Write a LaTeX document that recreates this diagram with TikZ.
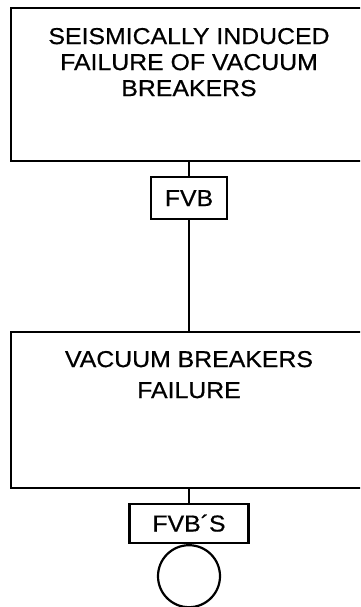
\documentclass[tikz,border=0pt]{standalone}
\usepackage{fontspec}
\setmainfont{Liberation Sans}[FakeStretch=1.08,FakeBold=0.6]
\usetikzlibrary{positioning}

\tikzset{
  bigbox/.style={draw,line width=2.4pt,minimum width=356pt,inner sep=0pt},
  tagbox/.style={draw,line width=2.2pt,minimum height=42pt,text height=16pt,text depth=0pt,inner sep=0pt,font=\fontsize{23}{26}\selectfont},
  boxtext/.style={align=center,inner sep=0pt},
  wire/.style={line width=2.2pt}
}

\begin{document}
\begin{tikzpicture}[x=1pt,y=-1pt]
  \clip (0,0) rectangle (360,607);

  \node[bigbox,minimum height=153pt] (seis) at (189,84.5) {};
  \node[boxtext,font=\fontsize{23}{26}\selectfont,below=21pt of seis.north] (seistext)
    {SEISMICALLY INDUCED\\FAILURE OF VACUUM\\BREAKERS};
  \node[tagbox,minimum width=76pt] (fvb) at (189,198) {FVB};

  \node[bigbox,minimum height=156pt] (vb) at (189,410) {};
  \node[boxtext,font=\fontsize{23}{31}\selectfont,below=20pt of vb.north] (vbtext)
    {VACUUM BREAKERS\\FAILURE};
  \node[tagbox,minimum width=119pt,minimum height=39pt] (fvbs) at (189,523.5) {FVB´S};
  \node[circle,draw,line width=2.2pt,minimum size=62pt,inner sep=0pt,below=0pt of fvbs] (basic) {};

  \draw[wire] (seis.south) -- (fvb.north);
  \draw[wire] (fvb.south) -- (vb.north);
  \draw[wire] (vb.south) -- (fvbs.north);
\end{tikzpicture}
\end{document}
